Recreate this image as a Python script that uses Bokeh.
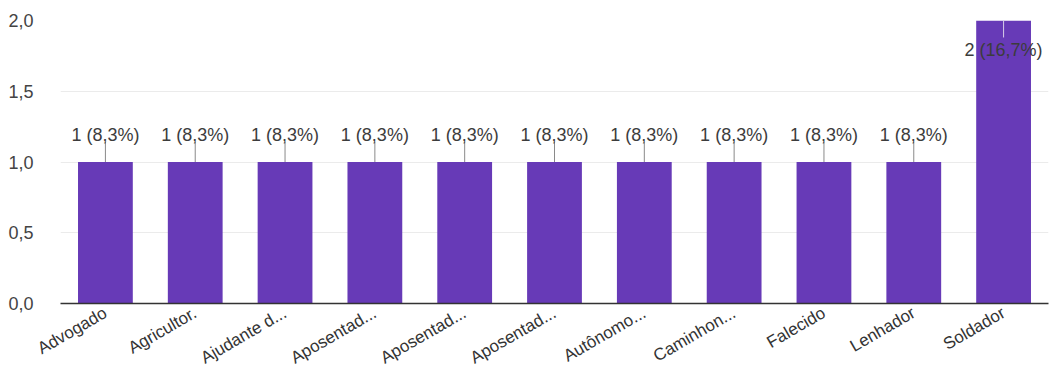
from bokeh.plotting import figure
from bokeh.models import ColumnDataSource, FactorRange
from bokeh.embed import file_html
from bokeh.resources import INLINE
from bokeh.core.properties import value
import math

categories = ["Advogado", "Agricultor.", "Ajudante d...", "Aposentad...", "Aposentad...\u200b",
              "Aposentad...\u200b\u200b", "Autônomo...", "Caminhon...", "Falecido", "Lenhador", "Soldador"]
counts = [1, 1, 1, 1, 1, 1, 1, 1, 1, 1, 2]
labels = ["1 (8,3%)"] * 10 + ["2 (16,7%)"]
y_ticks = [0, 0.5, 1.0, 1.5, 2.0]
y_tick_labels = ["0,0", "0,5", "1,0", "1,5", "2,0"]

ymax = 2.0
out = dict(x=[], top=[], label=[], ly=[], s0=[], s1=[])
inn = dict(x=[], top=[], label=[], ly=[], s0=[], s1=[])
for cat, c, lab in zip(categories, counts, labels):
    d = inn if c >= ymax else out
    d["x"].append(cat)
    d["top"].append(c)
    d["label"].append(lab)
    d["s0"].append(c)
    if c >= ymax:
        d["ly"].append(c - 0.205)
        d["s1"].append(c - 0.12)
    else:
        d["ly"].append(c + 0.19)
        d["s1"].append(c + 0.14)

bars = ColumnDataSource(dict(x=categories, top=counts))
src_out = ColumnDataSource(out)
src_in = ColumnDataSource(inn)

p = figure(x_range=FactorRange(*categories, range_padding=0), y_range=(0, ymax),
           width=1049, height=381, output_backend="svg", toolbar_location=None,
           min_border_left=60, min_border_right=1, min_border_top=20, min_border_bottom=78)
p.outline_line_color = None
p.background_fill_color = "white"
p.border_fill_color = "white"

p.vbar(x="x", top="top", width=0.61, source=bars, fill_color="#673ab7", line_color=None)
p.segment(x0="x", y0="s0", x1="x", y1="s1", source=src_out, line_color="#8a8a8a", line_width=1)
p.segment(x0="x", y0="s0", x1="x", y1="s1", source=src_in, line_color="#d8cfe8", line_width=1)
p.text(x="x", y="ly", text="label", source=src_out, text_align="center", text_baseline="middle",
       text_font=value("Liberation Sans"), text_font_size="18px", text_color="#3c3c3c")
p.text(x="x", y="ly", text="label", source=src_in, text_align="center", text_baseline="middle",
       text_font=value("Liberation Sans"), text_font_size="18px", text_color="#3c3c3c")

p.xgrid.grid_line_color = None
p.ygrid.grid_line_color = "#ebebeb"
p.ygrid.ticker = y_ticks

p.yaxis.ticker = y_ticks
p.yaxis.major_label_overrides = {t: l for t, l in zip(y_ticks, y_tick_labels)}
p.yaxis.axis_line_color = None
p.yaxis.major_tick_line_color = None
p.yaxis.minor_tick_line_color = None
p.yaxis.major_label_text_font = "Liberation Sans"
p.yaxis.major_label_text_font_size = "18px"
p.yaxis.major_label_text_color = "#444444"
p.yaxis.major_label_standoff = 21

p.xaxis.axis_line_color = "#333333"
p.xaxis.axis_line_width = 1.5
p.xaxis.major_tick_line_color = None
p.xaxis.minor_tick_line_color = None
p.xaxis.major_tick_out = 0
p.xaxis.major_tick_in = 0
p.xaxis.major_label_orientation = math.pi / 6
p.xaxis.major_label_text_font = "Liberation Sans"
p.xaxis.major_label_text_font_size = "17px"
p.xaxis.major_label_text_color = "#333333"
p.xaxis.major_label_standoff = 8

open("out.html", "w").write(file_html(p, INLINE))
